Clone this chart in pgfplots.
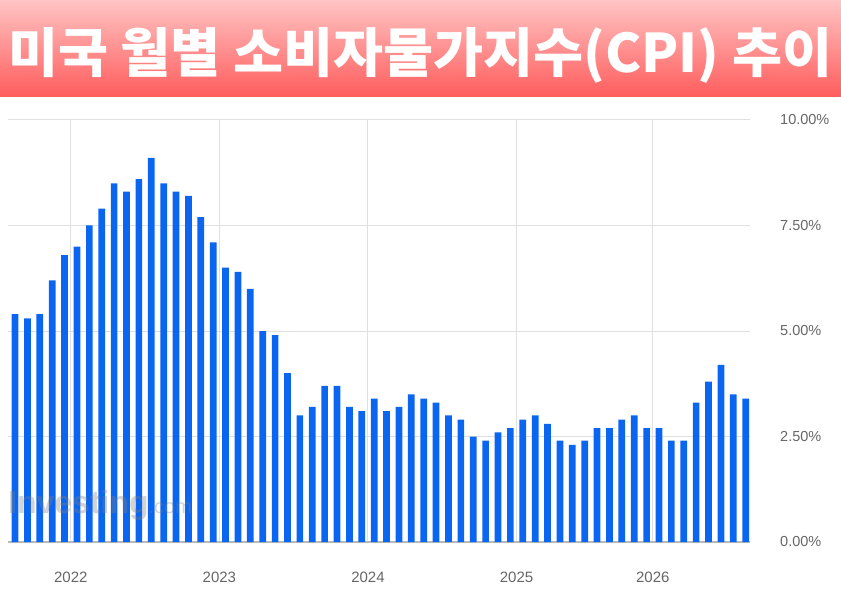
\documentclass[border=0pt]{standalone}
\usepackage{fontspec}
\setmainfont{Liberation Sans}
\newfontfamily\kr{Noto Sans CJK KR}
\usepackage{pgfplots}
\pgfplotsset{compat=1.18}
\usepackage{pgfplotstable}
\definecolor{barblue}{HTML}{0A66F0}
\definecolor{lbl}{HTML}{666666}
\definecolor{grd}{HTML}{E0E0E0}
\definecolor{bantop}{HTML}{FFC4C4}
\definecolor{banbot}{HTML}{FF5C5C}
\pgfplotstableread{
i v
0 5.4
1 5.3
2 5.4
3 6.2
4 6.8
5 7.0
6 7.5
7 7.9
8 8.5
9 8.3
10 8.6
11 9.1
12 8.5
13 8.3
14 8.2
15 7.7
16 7.1
17 6.5
18 6.4
19 6.0
20 5.0
21 4.9
22 4.0
23 3.0
24 3.2
25 3.7
26 3.7
27 3.2
28 3.1
29 3.4
30 3.1
31 3.2
32 3.5
33 3.4
34 3.3
35 3.0
36 2.9
37 2.5
38 2.4
39 2.6
40 2.7
41 2.9
42 3.0
43 2.8
44 2.4
45 2.3
46 2.4
47 2.7
48 2.7
49 2.9
50 3.0
51 2.7
52 2.7
53 2.4
54 2.4
55 3.3
56 3.8
57 4.2
58 3.5
59 3.4
}\cpi
\begin{document}
\begin{tikzpicture}
\path[use as bounding box] (0pt,0pt) rectangle (841pt,595pt);
\shade[top color=bantop, bottom color=banbot, draw=none] (0pt,498pt) rectangle (841pt,595pt);
\node[anchor=base west, inner sep=0pt, text=white] at (8pt,522pt)
  {\resizebox{824pt}{45pt}{\kr\bfseries 미국 월별 소비자물가지수(CPI) 추이}};
\begin{axis}[
  at={(8pt,53pt)}, anchor=south west,
  scale only axis, width=742pt, height=422pt,
  xmin=-0.57, xmax=59.35, ymin=0, ymax=10,
  axis line style={draw=none},
  major tick length=0pt,
  xtick={4.5,16.5,28.5,40.5,51.5},
  xticklabels={2022,2023,2024,2025,2026},
  ytick={0,2.5,5,7.5,10},
  yticklabels={0.00\%,2.50\%,5.00\%,7.50\%,10.00\%},
  yticklabel pos=right,
  xmajorgrids, ymajorgrids,
  grid style={grd, line width=1pt},
  extra y ticks={0},
  extra y tick labels={},
  extra y tick style={grid style={gray!55, line width=1.2pt}},
  yticklabel style={anchor=west, inner sep=0pt, xshift=30pt, font=\fontsize{14.5}{16}\selectfont, text=lbl},
  xticklabel style={anchor=center, inner sep=0pt, yshift=-35pt, font=\fontsize{15}{17}\selectfont, text=lbl},
]
\addplot[ybar, bar width=6.7pt, fill=barblue, draw=none] table[x=i, y=v] {\cpi};
\end{axis}
\node[anchor=base west, inner sep=0pt, text=gray, opacity=0.35] at (8pt,82pt)
  {\fontsize{32}{34}\selectfont\bfseries Investing\fontsize{20}{22}\selectfont\mdseries.com};
\end{tikzpicture}
\end{document}
